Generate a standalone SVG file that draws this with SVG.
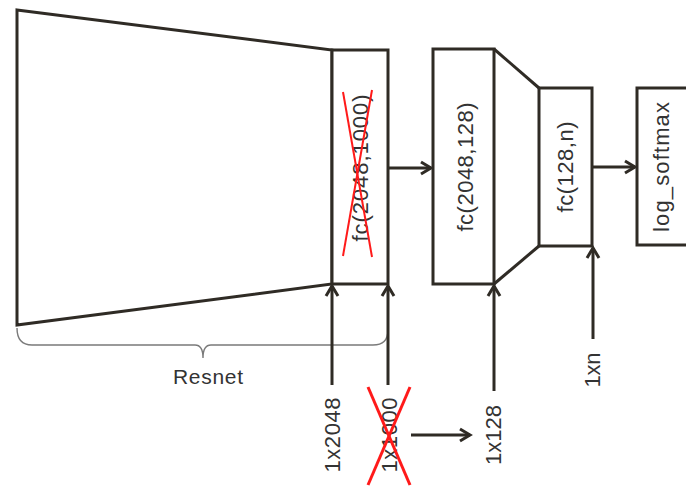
<svg xmlns="http://www.w3.org/2000/svg" width="686" height="486" viewBox="0 0 686 486">
<style>
.ln{stroke:#2f2b25;stroke-width:3;fill:none;stroke-linejoin:miter}
.box{stroke:#2f2b25;stroke-width:3;fill:#fff}
.t{font-family:"Liberation Sans",Arial,sans-serif;font-size:22px;fill:#333;text-anchor:middle;dominant-baseline:central}
.x{stroke:#ff1a1a;stroke-width:2;fill:none}
.brace{stroke:#7a7a7a;stroke-width:1.4;fill:none}
</style>
<defs>
<marker id="ah" markerUnits="userSpaceOnUse" markerWidth="16" markerHeight="16" refX="11" refY="7" orient="auto" viewBox="0 0 16 14">
<path d="M1,1 L11,7 L1,13" stroke="#2f2b25" stroke-width="3" fill="none"/>
</marker>
</defs>
<rect width="686" height="486" fill="#fff"/>
<g id="resnet">
<polygon class="ln" points="17,10 332,50 332,284 17,325"/>
<path class="brace" d="M17,328 Q17,345 32,345 L195,345 Q203,345 203,358 Q203,345 211,345 L373,345 Q388,345 388,330"/>
<text class="t" x="208" y="376" textLength="70" style="font-size:21px">Resnet</text>
</g>
<g id="fc1">
<rect class="box" x="332" y="50" width="56" height="234"/>
<text class="t" transform="translate(360,168) rotate(-90)" textLength="147">fc(2048,1000)</text>
<line class="x" x1="343" y1="92" x2="372" y2="257"/>
<line class="x" x1="372" y1="90" x2="343" y2="256"/>
</g>
<g id="fc2">
<rect class="box" x="433" y="49" width="61" height="235"/>
<text class="t" transform="translate(465,167) rotate(-90)" textLength="129">fc(2048,128)</text>
</g>
<g id="fc3">
<line class="ln" x1="494" y1="49" x2="539" y2="88"/>
<line class="ln" x1="494" y1="284" x2="539" y2="246"/>
<rect class="box" x="539" y="88" width="53" height="158"/>
<text class="t" transform="translate(565,167) rotate(-90)" textLength="91">fc(128,n)</text>
</g>
<g id="logsoftmax">
<rect class="box" x="637" y="88" width="70" height="157"/>
<text class="t" transform="translate(661,167) rotate(-90)" textLength="130">log_softmax</text>
</g>
<g id="in2048">
<text class="t" transform="translate(332,435) rotate(-90)" textLength="75">1x2048</text>
</g>
<g id="in1000">
<text class="t" transform="translate(389,435) rotate(-90)" textLength="75">1x1000</text>
<line class="x" x1="368" y1="387" x2="410" y2="485" style="stroke-width:3"/>
<line class="x" x1="410" y1="387" x2="368" y2="485" style="stroke-width:3"/>
</g>
<g id="in128">
<text class="t" transform="translate(493,435) rotate(-90)" textLength="60">1x128</text>
</g>
<g id="inn">
<text class="t" transform="translate(592,370) rotate(-90)" textLength="35">1xn</text>
</g>
<g id="connectors">
<line class="ln" x1="388" y1="168" x2="431" y2="168" marker-end="url(#ah)"/>
<line class="ln" x1="592" y1="167" x2="635" y2="167" marker-end="url(#ah)"/>
<line class="ln" x1="332" y1="385" x2="332" y2="286" marker-end="url(#ah)"/>
<line class="ln" x1="388" y1="385" x2="388" y2="286" marker-end="url(#ah)"/>
<line class="ln" x1="494" y1="391" x2="494" y2="286" marker-end="url(#ah)"/>
<line class="ln" x1="593" y1="339" x2="593" y2="248" marker-end="url(#ah)"/>
<line class="ln" x1="411" y1="435" x2="470" y2="435" marker-end="url(#ah)"/>
</g>
</svg>
